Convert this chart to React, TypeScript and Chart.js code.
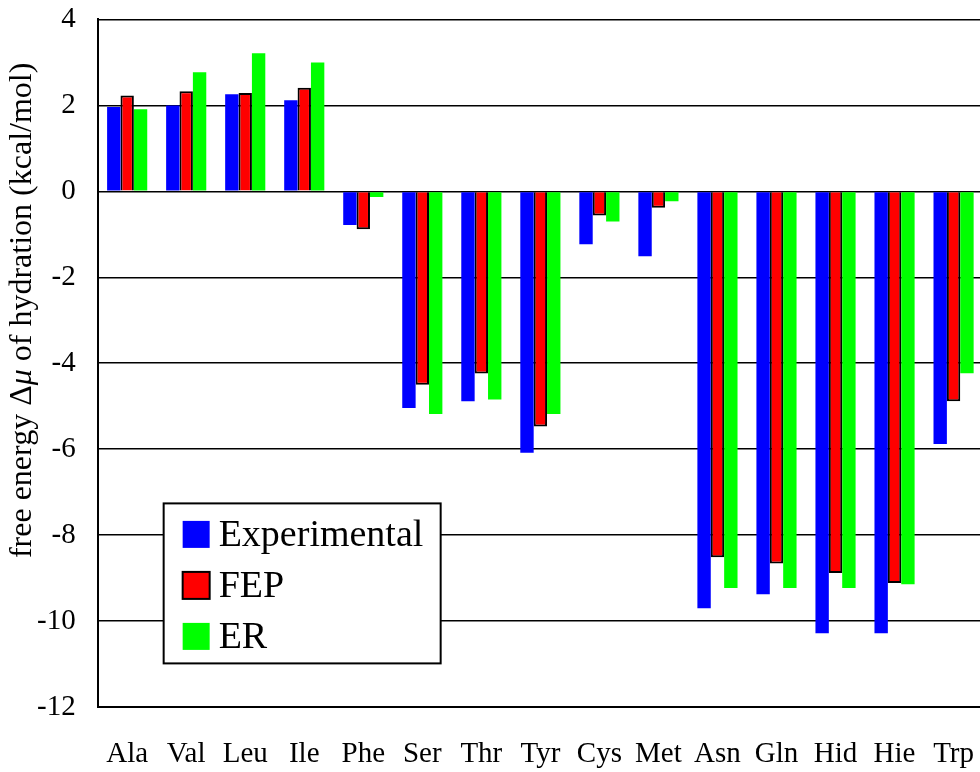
import React, { useEffect, useRef } from "react";
import { Chart, registerables } from "chart.js";

Chart.register(...registerables);

const categories = ["Ala", "Val", "Leu", "Ile", "Phe", "Ser", "Thr", "Tyr", "Cys", "Met", "Asn", "Gln", "Hid", "Hie", "Trp"];
const experimental = [1.96, 2.0, 2.26, 2.12, -0.78, -5.04, -4.88, -6.08, -1.23, -1.51, -9.7, -9.37, -10.28, -10.28, -5.88];
const fep = [2.23, 2.33, 2.29, 2.41, -0.88, -4.5, -4.24, -5.47, -0.56, -0.38, -8.51, -8.66, -8.88, -9.11, -4.88];
const er = [1.91, 2.77, 3.21, 3.0, -0.13, -5.18, -4.84, -5.18, -0.7, -0.23, -9.23, -9.23, -9.23, -9.14, -4.23];
const seriesLabels = ["Experimental", "FEP", "ER"];
const yTitleParts = ["free energy Δ", "μ", " of hydration (kcal/mol)"];
const yMin = -12;
const yMax = 4;
const yStep = 2;

const SERIF = "'Liberation Serif', 'Times New Roman', serif";

const yTitlePlugin = {
  id: "yTitlePlugin",
  afterDraw(chart: any) {
    const ctx = chart.ctx;
    const area = chart.chartArea;
    ctx.save();
    ctx.translate(23, area.top + (area.bottom - area.top) * 0.423);
    ctx.rotate(-Math.PI / 2);
    ctx.fillStyle = "#000";
    ctx.textBaseline = "middle";
    ctx.textAlign = "left";
    const fonts = [`32px ${SERIF}`, `italic 32px ${SERIF}`, `32px ${SERIF}`];
    let total = 0;
    const widths = yTitleParts.map((p, i) => {
      ctx.font = fonts[i];
      const w = ctx.measureText(p).width;
      total += w;
      return w;
    });
    let x = -total / 2;
    yTitleParts.forEach((p, i) => {
      ctx.font = fonts[i];
      ctx.fillText(p, x, 0);
      x += widths[i];
    });
    ctx.restore();
  },
};

const legendPlugin = {
  id: "boxLegend",
  afterDraw(chart: any) {
    const ctx = chart.ctx;
    const area = chart.chartArea;
    const left = area.left + 66;
    const top = area.top + 484;
    const w = 277;
    const h = 160;
    ctx.save();
    ctx.fillStyle = "#fff";
    ctx.fillRect(left, top, w, h);
    ctx.strokeStyle = "#000";
    ctx.lineWidth = 2;
    ctx.strokeRect(left, top, w, h);
    ctx.font = `38px ${SERIF}`;
    ctx.textBaseline = "middle";
    ctx.textAlign = "left";
    chart.data.datasets.forEach((ds: any, i: number) => {
      const cy = top + 31 + i * 51;
      ctx.fillStyle = ds.backgroundColor;
      ctx.fillRect(left + 19, cy - 13.5, 27, 27);
      if (ds.borderWidth) {
        ctx.strokeStyle = "#000";
        ctx.lineWidth = 2;
        ctx.strokeRect(left + 19, cy - 13.5, 27, 27);
      }
      ctx.fillStyle = "#000";
      ctx.fillText(ds.label, left + 55, cy + 2);
    });
    ctx.restore();
  },
};

export default function App() {
  const ref = useRef<HTMLCanvasElement | null>(null);
  useEffect(() => {
    if (!ref.current) return;
    const chart = new Chart(ref.current, {
      type: "bar",
      data: {
        labels: categories,
        datasets: [
          { label: seriesLabels[0], data: experimental, backgroundColor: "#0000ff", borderWidth: 0 },
          { label: seriesLabels[1], data: fep, backgroundColor: "#ff0000", borderColor: "#000", borderWidth: 2 },
          { label: seriesLabels[2], data: er, backgroundColor: "#00ff00", borderWidth: 0 },
        ],
      },
      options: {
        animation: false,
        responsive: true,
        maintainAspectRatio: false,
        layout: { padding: { left: 15, top: 0, right: 0, bottom: 0 } },
        datasets: { bar: { categoryPercentage: 0.68, barPercentage: 1.0 } },
        plugins: {
          legend: { display: false },
          tooltip: { enabled: false },
          title: { display: false },
        },
        scales: {
          x: {
            grid: { display: false, drawTicks: false },
            border: { display: true, color: "#000", width: 2 },
            ticks: { color: "#000", font: { family: SERIF, size: 29 }, padding: 30, maxRotation: 0, autoSkip: false },
          },
          y: {
            min: yMin,
            max: yMax,
            grid: { color: "#000", lineWidth: 1.6, drawTicks: false },
            border: { display: true, color: "#000", width: 2 },
            ticks: { stepSize: yStep, color: "#000", font: { family: SERIF, size: 29 }, padding: 22 },
          },
        },
      },
      plugins: [yTitlePlugin, legendPlugin],
    });
    return () => chart.destroy();
  }, []);
  return (
    <div style={{ position: "fixed", left: 0, top: 0, width: 980, height: 772, overflow: "hidden", background: "#fff" }}>
      <div style={{ position: "absolute", left: 0, top: -20, width: 1004, height: 822 }}>
        <canvas ref={ref} />
      </div>
    </div>
  );
}
